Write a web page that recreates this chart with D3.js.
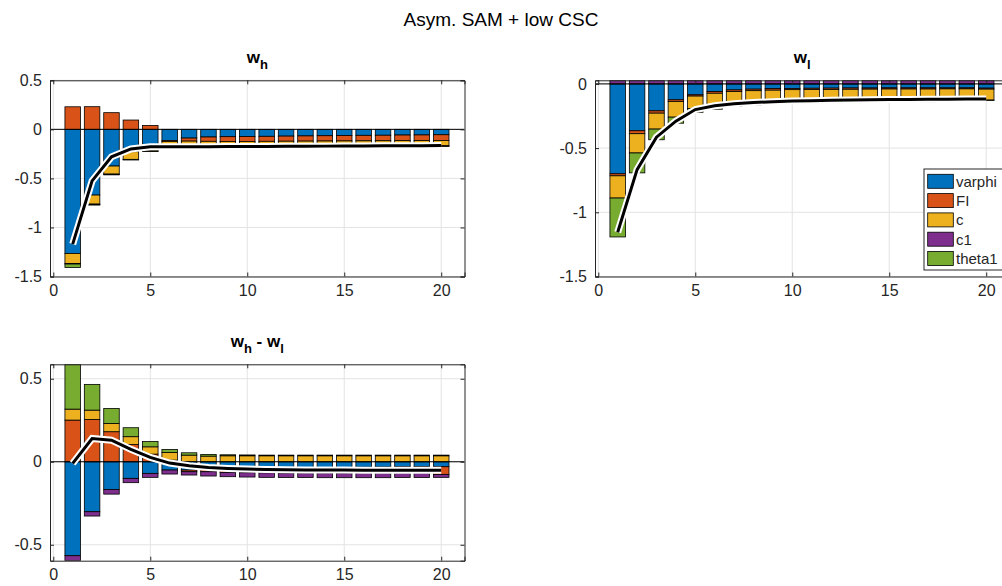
<!DOCTYPE html>
<html lang="en">
<head>
<meta charset="utf-8">
<title>Asym. SAM + low CSC</title>
<script src="https://d3js.org/d3.v7.min.js"></script>
<style>
  body { margin: 0; background: #fff; }
  svg text { font-family: "Liberation Sans", Arial, Helvetica, sans-serif; }
</style>
</head>
<body>
<script>
// periods and shock names
var periods = [1,2,3,4,5,6,7,8,9,10,11,12,13,14,15,16,17,18,19,20];
var seriesNames = ["varphi", "FI", "c", "c1", "theta1"];
var seriesColors = ["#0072BD", "#D95319", "#EDB120", "#7E2F8E", "#77AC30"];
var xTicks = [0, 5, 10, 15, 20];

// w_h contributions
var wh_varphi = [-1.265,-0.670,-0.374,-0.228,-0.157,-0.113,-0.089,-0.078,-0.075,-0.073,-0.071,-0.069,-0.067,-0.065,-0.063,-0.061,-0.060,-0.058,-0.057,-0.055];
var wh_FI     = [0.230,0.231,0.170,0.095,0.040,-0.010,-0.031,-0.044,-0.048,-0.050,-0.051,-0.052,-0.053,-0.054,-0.055,-0.056,-0.056,-0.057,-0.057,-0.058];
var wh_c      = [-0.102,-0.092,-0.082,-0.078,-0.063,-0.034,-0.038,-0.034,-0.034,-0.034,-0.035,-0.035,-0.036,-0.036,-0.037,-0.037,-0.038,-0.038,-0.039,-0.055];
var wh_c1     = [-0.006,-0.004,-0.004,-0.003,-0.003,-0.003,-0.003,-0.002,-0.002,-0.002,-0.002,-0.002,-0.002,-0.002,-0.002,-0.002,-0.002,-0.002,-0.002,-0.002];
var wh_theta1 = [-0.035,-0.006,-0.004,-0.003,-0.003,-0.012,-0.012,-0.013,-0.014,-0.014,-0.014,-0.014,-0.014,-0.014,-0.014,-0.014,-0.014,-0.014,-0.014,-0.004];
var wh_total  = [-1.170,-0.525,-0.280,-0.200,-0.178,-0.178,-0.178,-0.177,-0.176,-0.175,-0.174,-0.173,-0.172,-0.171,-0.170,-0.169,-0.168,-0.167,-0.166,-0.165];

// w_l contributions
var wl_varphi = [-0.700,-0.365,-0.210,-0.124,-0.085,-0.060,-0.047,-0.041,-0.037,-0.035,-0.034,-0.033,-0.032,-0.032,-0.031,-0.031,-0.031,-0.031,-0.031,-0.033];
var wl_FI     = [-0.016,-0.023,-0.018,-0.013,-0.010,-0.013,-0.013,-0.012,-0.012,-0.010,-0.010,-0.010,-0.010,-0.009,-0.009,-0.009,-0.009,-0.008,-0.008,-0.008];
var wl_c      = [-0.173,-0.150,-0.124,-0.122,-0.096,-0.093,-0.090,-0.087,-0.085,-0.084,-0.083,-0.082,-0.082,-0.081,-0.081,-0.081,-0.080,-0.080,-0.080,-0.085];
var wl_c1     = [0.026,0.026,0.026,0.026,0.026,0.026,0.026,0.026,0.026,0.026,0.026,0.026,0.026,0.026,0.026,0.026,0.026,0.026,0.026,0.026];
var wl_theta1 = [-0.303,-0.155,-0.083,-0.047,-0.030,-0.031,-0.026,-0.024,-0.022,-0.021,-0.020,-0.020,-0.020,-0.019,-0.019,-0.019,-0.019,-0.019,-0.019,-0.003];
var wl_total  = [-1.155,-0.668,-0.415,-0.290,-0.200,-0.170,-0.155,-0.145,-0.139,-0.134,-0.131,-0.128,-0.126,-0.124,-0.122,-0.121,-0.120,-0.119,-0.118,-0.117];

// w_h - w_l contributions
var df_varphi = [-0.566,-0.301,-0.167,-0.100,-0.070,-0.050,-0.050,-0.046,-0.044,-0.042,-0.040,-0.038,-0.036,-0.035,-0.034,-0.033,-0.032,-0.031,-0.030,-0.030];
var df_FI     = [0.251,0.255,0.181,0.104,0.046,0.010,-0.010,-0.014,-0.020,-0.024,-0.027,-0.030,-0.032,-0.033,-0.034,-0.035,-0.036,-0.036,-0.037,-0.046];
var df_c      = [0.066,0.056,0.050,0.047,0.044,0.046,0.040,0.034,0.036,0.036,0.036,0.036,0.036,0.036,0.036,0.036,0.036,0.036,0.036,0.036];
var df_c1     = [-0.030,-0.026,-0.028,-0.026,-0.024,-0.024,-0.020,-0.026,-0.026,-0.026,-0.027,-0.027,-0.027,-0.028,-0.028,-0.028,-0.028,-0.028,-0.028,-0.018];
var df_theta1 = [0.270,0.155,0.090,0.054,0.032,0.018,0.014,0.010,0.006,0.005,0.004,0.004,0.004,0.004,0.004,0.004,0.004,0.004,0.004,0.004];
var df_total  = [-0.010,0.140,0.130,0.075,0.026,-0.008,-0.024,-0.034,-0.040,-0.044,-0.046,-0.048,-0.049,-0.050,-0.050,-0.051,-0.051,-0.051,-0.051,-0.051];

var W = 1002, H = 586;
var axisCol = "#262626";

var svg = d3.select("body").append("svg")
    .attr("width", W)
    .attr("height", H);

svg.append("text")
    .attr("x", 501).attr("y", 26)
    .attr("text-anchor", "middle")
    .attr("font-size", 19)
    .attr("fill", "#000")
    .text("Asym. SAM + low CSC");

function drawPanel(p, idx) {
    var x = d3.scaleLinear().domain([-0.17, 21.2]).range([p.left, p.right]);
    var y = d3.scaleLinear().domain(p.ylim).range([p.bottom, p.top]);
    var g = svg.append("g");

    var clipId = "clip" + idx;
    svg.append("clipPath").attr("id", clipId)
      .append("rect")
        .attr("x", p.left).attr("y", p.top)
        .attr("width", p.right - p.left).attr("height", p.bottom - p.top);

    // grid
    g.selectAll(".gx").data(xTicks).enter().append("line")
        .attr("x1", d => x(d)).attr("x2", d => x(d))
        .attr("y1", p.top).attr("y2", p.bottom)
        .attr("stroke", "#e3e3e3").attr("stroke-width", 1);
    g.selectAll(".gy").data(p.yticks).enter().append("line")
        .attr("x1", p.left).attr("x2", p.right)
        .attr("y1", d => y(d)).attr("y2", d => y(d))
        .attr("stroke", "#e3e3e3").attr("stroke-width", 1);

    // stacked bars
    var rows = periods.map(function(t, i) {
        var r = { t: t };
        seriesNames.forEach(function(k) { r[k] = p.series[k][i]; });
        return r;
    });
    var stacked = d3.stack().keys(seriesNames).offset(d3.stackOffsetDiverging)(rows);
    var bw = x(0.8) - x(0);

    var plot = g.append("g").attr("clip-path", "url(#" + clipId + ")");
    stacked.forEach(function(layer, li) {
        plot.append("g").selectAll("rect").data(layer).enter().append("rect")
            .attr("x", d => x(d.data.t) - bw / 2)
            .attr("width", bw)
            .attr("y", d => y(Math.max(d[0], d[1])))
            .attr("height", d => Math.abs(y(d[0]) - y(d[1])))
            .attr("fill", seriesColors[li])
            .attr("stroke", "#000")
            .attr("stroke-width", 0.8);
    });

    // baseline
    plot.append("line")
        .attr("x1", p.left).attr("x2", p.right)
        .attr("y1", y(0)).attr("y2", y(0))
        .attr("stroke", "#000").attr("stroke-width", 1);

    // total line
    var line = d3.line().x((d, i) => x(periods[i])).y(d => y(d));
    plot.append("path").datum(p.total)
        .attr("d", line).attr("fill", "none")
        .attr("stroke", "#fff").attr("stroke-width", 7)
        .attr("stroke-linejoin", "miter");
    plot.append("path").datum(p.total)
        .attr("d", line).attr("fill", "none")
        .attr("stroke", "#000").attr("stroke-width", 3)
        .attr("stroke-linejoin", "miter");

    // axes box with inward ticks
    var axB = d3.axisBottom(x).tickValues(xTicks).tickSize(-4).tickPadding(8).tickFormat(d3.format("d"));
    var axT = d3.axisTop(x).tickValues(xTicks).tickSize(-4).tickFormat("");
    var axL = d3.axisLeft(y).tickValues(p.yticks).tickSize(-4).tickPadding(8).tickFormat(d => String(d));
    var axR = d3.axisRight(y).tickValues(p.yticks).tickSize(-4).tickFormat("");
    [
        [axB, "translate(0," + p.bottom + ")"],
        [axT, "translate(0," + p.top + ")"],
        [axL, "translate(" + p.left + ",0)"],
        [axR, "translate(" + p.right + ",0)"]
    ].forEach(function(a) {
        var ag = g.append("g").attr("transform", a[1]).call(a[0]);
        ag.select(".domain").attr("stroke", axisCol).attr("stroke-width", 1);
        ag.selectAll(".tick line").attr("stroke", axisCol);
        ag.selectAll("text").attr("fill", axisCol).attr("font-size", 16)
            .style("font-family", '"Liberation Sans", Arial, sans-serif');
    });

    // subplot title with subscripts
    var tt = svg.append("text")
        .attr("x", (p.left + p.right) / 2).attr("y", p.top - 17)
        .attr("text-anchor", "middle")
        .attr("font-weight", "bold").attr("font-size", 17).attr("fill", "#000");
    p.title.forEach(function(part) {
        tt.append("tspan")
            .attr("dy", part.sub ? 6 : (part.after ? -6 : 0))
            .attr("font-size", part.sub ? 13 : 17)
            .text(part.s);
    });

    return { x: x, y: y };
}

drawPanel({
    left: 50, right: 464.5, top: 80.3, bottom: 276.5,
    ylim: [-1.5, 0.5], yticks: [-1.5, -1, -0.5, 0, 0.5],
    series: { varphi: wh_varphi, FI: wh_FI, c: wh_c, c1: wh_c1, theta1: wh_theta1 },
    total: wh_total,
    title: [{ s: "w" }, { s: "h", sub: true }]
}, 0);

drawPanel({
    left: 595, right: 1009.5, top: 80.3, bottom: 276.5,
    ylim: [-1.5, 0.028], yticks: [-1.5, -1, -0.5, 0],
    series: { varphi: wl_varphi, FI: wl_FI, c: wl_c, c1: wl_c1, theta1: wl_theta1 },
    total: wl_total,
    title: [{ s: "w" }, { s: "l", sub: true }]
}, 1);

drawPanel({
    left: 50, right: 464.5, top: 364.3, bottom: 560.7,
    ylim: [-0.596, 0.587], yticks: [-0.5, 0, 0.5],
    series: { varphi: df_varphi, FI: df_FI, c: df_c, c1: df_c1, theta1: df_theta1 },
    total: df_total,
    title: [{ s: "w" }, { s: "h", sub: true }, { s: " - w", after: true }, { s: "l", sub: true }]
}, 2);

// legend inside the w_l panel
var leg = svg.append("g").attr("transform", "translate(924,169)");
leg.append("rect")
    .attr("x", 0).attr("y", 0).attr("width", 90).attr("height", 101)
    .attr("fill", "#fff").attr("stroke", axisCol).attr("stroke-width", 1);
seriesNames.forEach(function(name, i) {
    var row = leg.append("g").attr("transform", "translate(0," + (5.3 + i * 19.3) + ")");
    row.append("rect")
        .attr("x", 3.7).attr("y", 0).attr("width", 25.6).attr("height", 14)
        .attr("fill", seriesColors[i]).attr("stroke", "#000").attr("stroke-width", 0.8);
    row.append("text")
        .attr("x", 32).attr("y", 12.5)
        .attr("font-size", 15).attr("fill", axisCol)
        .text(name);
});
</script>
</body>
</html>
